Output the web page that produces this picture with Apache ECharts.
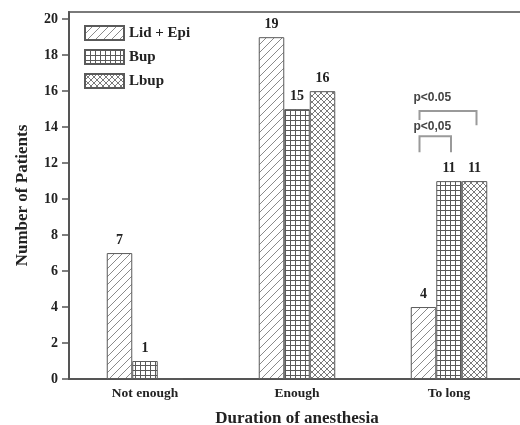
<!DOCTYPE html>
<html>
<head>
<meta charset="utf-8">
<script src="https://cdn.jsdelivr.net/npm/echarts@6/dist/echarts.min.js"></script>
<style>html,body{margin:0;padding:0;background:#fff}#c{width:520px;height:425px}</style>
</head>
<body>
<div id="c"></div>
<script>
// ---- data ----
var categories = ['Not enough', 'Enough', 'To long'];
var seriesNames = ['Lid + Epi', 'Bup', 'Lbup'];
var lidEpi = [7, 19, 4];
var bup = [1, 15, 11];
var lbup = [0, 16, 11];
var yTicks = [0, 2, 4, 6, 8, 10, 12, 14, 16, 18, 20];
// significance annotations: category index, series index from/to, bracket level, leg ends, label level
var sigCat = [2, 2];
var sigFrom = [0, 0];
var sigTo = [1, 2];
var sigTop = [13.5, 14.9];
var sigLegLeft = [12.6, 14.4];
var sigLegRight = [12.6, 14.1];
var sigText = ['p<0,05', 'p<0.05'];
var sigTextLevel = [14.05, 15.65];

// ---- patterns ----
function tile(w, h, draw) {
  var cv = document.createElement('canvas');
  cv.width = w; cv.height = h;
  var g = cv.getContext('2d');
  g.fillStyle = '#fff'; g.fillRect(0, 0, w, h);
  draw(g, w, h);
  return { image: cv, repeat: 'repeat' };
}
var hatch = tile(8, 8, function (g) {
  g.strokeStyle = '#8a8a8a'; g.lineWidth = 1;
  g.beginPath();
  g.moveTo(0, 8); g.lineTo(8, 0);
  g.moveTo(-1, 1); g.lineTo(1, -1);
  g.moveTo(7, 9); g.lineTo(9, 7);
  g.stroke();
});
var gridPat = tile(5, 5, function (g) {
  g.fillStyle = '#5a5a5a';
  g.fillRect(0, 0, 5, 1);
  g.fillRect(0, 0, 1, 5);
});
var cross = tile(6, 6, function (g) {
  g.strokeStyle = '#7a7a7a'; g.lineWidth = 1;
  g.beginPath();
  g.moveTo(0, 6); g.lineTo(6, 0);
  g.moveTo(0, 0); g.lineTo(6, 6);
  g.moveTo(-1, 1); g.lineTo(1, -1);
  g.moveTo(5, 7); g.lineTo(7, 5);
  g.moveTo(-1, 5); g.lineTo(1, 7);
  g.moveTo(5, -1); g.lineTo(7, 1);
  g.stroke();
});
var patterns = [hatch, gridPat, cross];

var serif = '"Liberation Serif", "Times New Roman", serif';
var BAR_W = 25.5;

function barSeries(i, values) {
  return {
    name: seriesNames[i],
    type: 'bar',
    data: values,
    barWidth: BAR_W,
    barGap: '0%',
    itemStyle: { color: patterns[i], borderColor: '#5a5a5a', borderWidth: 1 },
    label: {
      show: true, position: 'top', distance: 6,
      fontFamily: serif, fontWeight: 'bold', fontSize: 14, color: '#222',
      formatter: function (p) { return p.value ? String(p.value) : ''; }
    },
    emphasis: { disabled: true }
  };
}

var sigData = sigCat.map(function (c, k) { return [c, sigTop[k], k]; });

var chart = echarts.init(document.getElementById('c'), null, { renderer: 'canvas' });
chart.setOption({
  animation: false,
  backgroundColor: '#fff',
  grid: { left: 69, right: -5, top: 12, bottom: 46, containLabel: false, outerBoundsMode: 'none',
    show: true, borderColor: '#7a7a7a', borderWidth: 2, backgroundColor: 'transparent' },
  legend: {
    orient: 'vertical', left: 79, top: 20,
    itemWidth: 39, itemHeight: 14, itemGap: 8,
    icon: 'rect',
    data: seriesNames,
    textStyle: { fontFamily: serif, fontWeight: 'bold', fontSize: 15, color: '#222' }
  },
  xAxis: {
    type: 'category',
    data: categories,
    name: 'Duration of anesthesia',
    nameLocation: 'middle', nameGap: 31,
    nameTextStyle: { fontFamily: serif, fontWeight: 'bold', fontSize: 17, color: '#222' },
    axisLine: { lineStyle: { color: '#555', width: 2 } },
    axisTick: { show: false },
    axisLabel: { fontFamily: serif, fontWeight: 'bold', fontSize: 13.5, color: '#222', margin: 8 }
  },
  yAxis: {
    type: 'value',
    min: 0, max: 20.4, interval: 2,
    name: 'Number of Patients',
    nameLocation: 'middle', nameGap: 38,
    nameTextStyle: { fontFamily: serif, fontWeight: 'bold', fontSize: 17, color: '#222' },
    splitLine: { show: false },
    axisLine: { show: true, lineStyle: { color: '#555', width: 2 } },
    axisTick: { show: true, length: 7, lineStyle: { color: '#555', width: 1.5 },
      customValues: yTicks },
    axisLabel: { fontFamily: serif, fontWeight: 'bold', fontSize: 14, color: '#222', margin: 11,
      customValues: yTicks }
  },
  series: [
    barSeries(0, lidEpi),
    barSeries(1, bup),
    barSeries(2, lbup),
    {
      type: 'custom',
      data: sigData,
      silent: true,
      z: 5,
      renderItem: function (params, api) {
        var k = api.value(2);
        var cat = api.value(0);
        var center = api.coord([cat, 0])[0];
        var xl = center + (sigFrom[k] - 1) * BAR_W - 4;
        var xr = center + (sigTo[k] - 1) * BAR_W + 2;
        var yt = api.coord([cat, sigTop[k]])[1];
        var yl = api.coord([cat, sigLegLeft[k]])[1];
        var yr = api.coord([cat, sigLegRight[k]])[1];
        var ytxt = api.coord([cat, sigTextLevel[k]])[1];
        return {
          type: 'group',
          children: [
            { type: 'polyline', shape: { points: [[xl, yl], [xl, yt], [xr, yt], [xr, yr]] },
              style: { stroke: '#9a9a9a', lineWidth: 2, fill: null } },
            { type: 'text', style: { x: xl - 6, y: ytxt, text: sigText[k], textVerticalAlign: 'middle',
              verticalAlign: 'middle', align: 'left',
              font: 'bold 12px "Liberation Sans", Arial, sans-serif', fill: '#444' } }
          ]
        };
      }
    }
  ]
});
</script>
</body>
</html>
